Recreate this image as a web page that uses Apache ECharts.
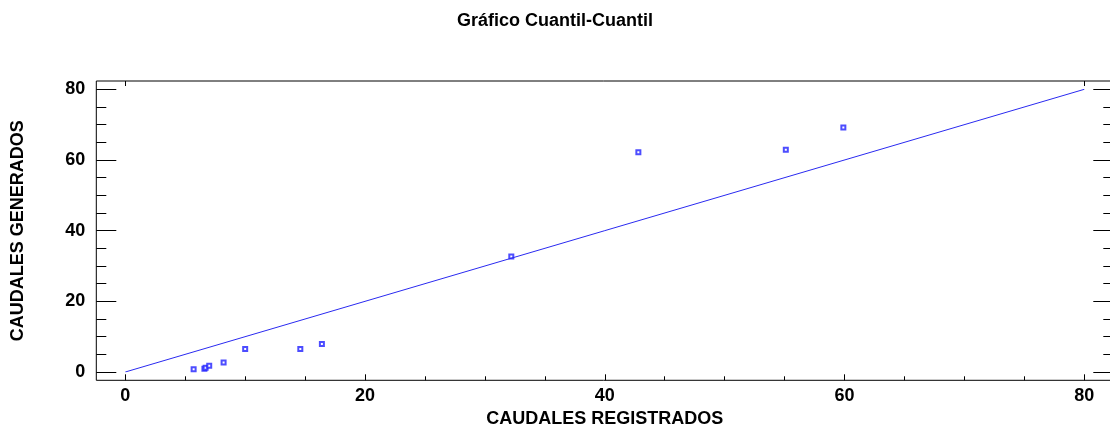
<!DOCTYPE html>
<html>
<head>
<meta charset="utf-8">
<script src="https://cdn.jsdelivr.net/npm/echarts@6/dist/echarts.min.js"></script>
<style>
  html, body { margin: 0; padding: 0; background: #ffffff; }
  #chart { width: 1110px; height: 429px; }
</style>
</head>
<body>
<div id="chart"></div>
<script>
// ---- data ----
const chartTitle = 'Gráfico Cuantil-Cuantil';
const xAxisTitle = 'CAUDALES REGISTRADOS';
const yAxisTitle = 'CAUDALES GENERADOS';
const registrados = [5.7, 6.6, 6.7, 7.0, 8.2, 10.0, 14.6, 16.4, 32.2, 42.8, 55.1, 59.9];
const generados   = [0.8, 0.9, 1.2, 1.8, 2.7, 6.5, 6.5, 7.9, 32.7, 62.2, 62.9, 69.2];
const refLineX = [0, 80];
const refLineY = [0, 80];
const axisMin = 0, axisMax = 80, axisStep = 20;

const FONT = '"Liberation Sans", Arial, sans-serif';
const points = registrados.map((v, i) => [v, generados[i]]);
const refLine = refLineX.map((v, i) => [v, refLineY[i]]);

const chart = echarts.init(document.getElementById('chart'), null, { renderer: 'canvas' });
const tickStyle = { color: '#000', width: 1 };
const noLine = { show: false, onZero: false };

chart.setOption({
  backgroundColor: '#ffffff',
  animation: false,
  title: {
    text: chartTitle,
    left: 'center',
    top: 7,
    textStyle: { fontFamily: FONT, fontWeight: 'bold', fontSize: 18, color: '#000' }
  },
  grid: [
    { // outer frame
      left: 96.3, right: -3.3, top: 81, bottom: 48.7,
      outerBoundsMode: 'none', containLabel: false,
      show: true, borderColor: '#000', borderWidth: 1, backgroundColor: 'transparent'
    },
    { // data area
      left: 125.3, right: 25.7, top: 89.3, bottom: 57,
      outerBoundsMode: 'none', containLabel: false
    }
  ],
  xAxis: [
    { gridIndex: 0, type: 'value', show: false, min: 0, max: 1, axisLine: noLine },
    {
      gridIndex: 1, type: 'value', position: 'bottom', offset: 8.3,
      min: axisMin, max: axisMax, interval: axisStep,
      name: xAxisTitle, nameLocation: 'middle', nameGap: 26,
      nameTextStyle: { fontFamily: FONT, fontWeight: 'bold', fontSize: 18, color: '#000' },
      axisLine: noLine,
      axisTick: { show: true, inside: true, length: 6, lineStyle: tickStyle },
      minorTick: { show: true, splitNumber: 4, length: 4, lineStyle: tickStyle },
      axisLabel: { margin: 7, fontFamily: FONT, fontWeight: 'bold', fontSize: 18, color: '#000' },
      splitLine: { show: false }, minorSplitLine: { show: false }
    },
    {
      gridIndex: 1, type: 'value', position: 'top', offset: 8.3,
      min: axisMin, max: axisMax, interval: axisMax - axisMin,
      axisLine: noLine,
      axisTick: { show: true, inside: true, length: 5, lineStyle: tickStyle },
      axisLabel: { show: false },
      splitLine: { show: false }
    }
  ],
  yAxis: [
    { gridIndex: 0, type: 'value', show: false, min: 0, max: 1, axisLine: noLine },
    {
      gridIndex: 1, type: 'value', position: 'left', offset: 29,
      min: axisMin, max: axisMax, interval: axisStep,
      name: yAxisTitle, nameLocation: 'middle', nameGap: 69,
      nameTextStyle: { fontFamily: FONT, fontWeight: 'bold', fontSize: 18, color: '#000' },
      axisLine: noLine,
      axisTick: { show: true, inside: true, length: 20, lineStyle: tickStyle },
      minorTick: { show: true, splitNumber: 4, length: 10, lineStyle: tickStyle },
      axisLabel: { margin: 11, fontFamily: FONT, fontWeight: 'bold', fontSize: 18, color: '#000' },
      splitLine: { show: false }, minorSplitLine: { show: false }
    },
    {
      gridIndex: 1, type: 'value', position: 'right', offset: 29,
      min: axisMin, max: axisMax, interval: axisStep,
      axisLine: noLine,
      axisTick: { show: true, inside: true, length: 20, lineStyle: tickStyle },
      minorTick: { show: true, splitNumber: 4, length: 10, lineStyle: tickStyle },
      axisLabel: { show: false },
      splitLine: { show: false }, minorSplitLine: { show: false }
    }
  ],
  series: [
    {
      type: 'line', xAxisIndex: 1, yAxisIndex: 1,
      data: refLine, symbol: 'none', silent: true,
      lineStyle: { color: '#2a2af0', width: 1 }
    },
    {
      type: 'scatter', xAxisIndex: 1, yAxisIndex: 1,
      data: points, symbol: 'emptyRect', symbolSize: 4,
      itemStyle: { color: '#2020ff', borderColor: '#2020ff', borderWidth: 1 }
    }
  ]
});
</script>
</body>
</html>
